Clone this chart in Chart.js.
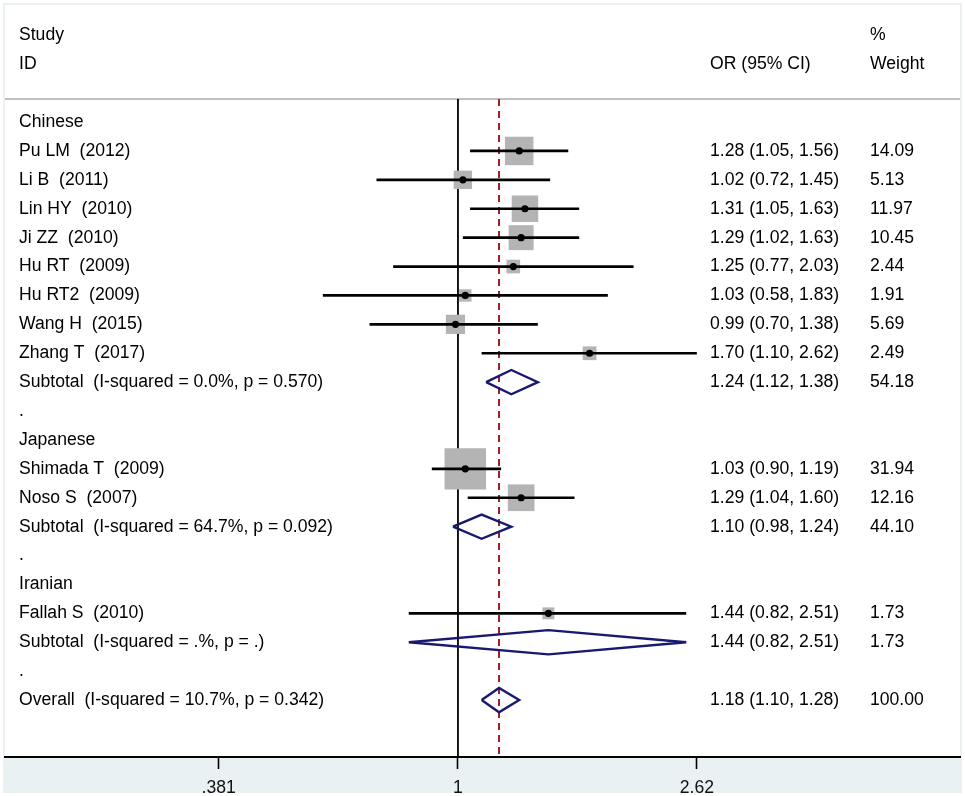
<!DOCTYPE html>
<html>
<head>
<meta charset="utf-8">
<title>Forest plot</title>
<script src="https://cdn.jsdelivr.net/npm/chart.js@4.4.0/dist/chart.umd.min.js"></script>
<style>
  html, body { margin: 0; padding: 0; background: #fff; }
  canvas { display: block; }
</style>
</head>
<body>
<canvas id="forest" width="965" height="796"></canvas>
<script>
// rows, top to bottom (row index = y value)
const rowLabels = [
  "Chinese",
  "Pu LM  (2012)", "Li B  (2011)", "Lin HY  (2010)", "Ji ZZ  (2010)",
  "Hu RT  (2009)", "Hu RT2  (2009)", "Wang H  (2015)", "Zhang T  (2017)",
  "Subtotal  (I-squared = 0.0%, p = 0.570)",
  ".",
  "Japanese",
  "Shimada T  (2009)", "Noso S  (2007)",
  "Subtotal  (I-squared = 64.7%, p = 0.092)",
  ".",
  "Iranian",
  "Fallah S  (2010)",
  "Subtotal  (I-squared = .%, p = .)",
  ".",
  "Overall  (I-squared = 10.7%, p = 0.342)"
];
const rowKinds = [
  "group", "study", "study", "study", "study", "study", "study", "study", "study", "pooled", "blank",
  "group", "study", "study", "pooled", "blank",
  "group", "study", "pooled", "blank",
  "pooled"
];
const orEst  = [null, 1.28, 1.02, 1.31, 1.29, 1.25, 1.03, 0.99, 1.70, 1.24, null, null, 1.03, 1.29, 1.10, null, null, 1.44, 1.44, null, 1.18];
const ciLow  = [null, 1.05, 0.72, 1.05, 1.02, 0.77, 0.58, 0.70, 1.10, 1.12, null, null, 0.90, 1.04, 0.98, null, null, 0.82, 0.82, null, 1.10];
const ciHigh = [null, 1.56, 1.45, 1.63, 1.63, 2.03, 1.83, 1.38, 2.62, 1.38, null, null, 1.19, 1.60, 1.24, null, null, 2.51, 2.51, null, 1.28];
const weights = ["", "14.09", "5.13", "11.97", "10.45", "2.44", "1.91", "5.69", "2.49", "54.18", "", "", "31.94", "12.16", "44.10", "", "", "1.73", "1.73", "", "100.00"];

const tickValues = [0.381, 1, 2.62];
const tickLabels = [".381", "1", "2.62"];
const overallRow = 20;

// layout constants
const fontFamily = '"Liberation Sans", Arial, sans-serif';
const labelFont = '17.6px ' + fontFamily;
const textLeft = 19, orColumn = 710, weightColumn = 870;
const separatorRow = -0.8;
const yTop = -4.05, yBottom = 21.97;
const xMin = 0.161, xMax = 7.57;
const diamondHalf = 0.42;
const boxSide = w => 6.8 * Math.sqrt(w) + 3;

const navy = "rgb(25,25,112)";
const darkRed = "rgb(165,30,40)";

const datasets = [];

// line of no effect and pooled estimate line
datasets.push({
  data: [{ x: 1, y: separatorRow }, { x: 1, y: yBottom }],
  showLine: true, borderColor: "#000", borderWidth: 1.8, pointRadius: 0, order: 10
});
datasets.push({
  data: [{ x: orEst[overallRow], y: separatorRow }, { x: orEst[overallRow], y: yBottom }],
  showLine: true, borderColor: darkRed, borderWidth: 2, borderDash: [7, 5], pointRadius: 0, order: 9
});

// weight boxes, point estimates and CI lines
const boxData = [];
const dotData = [];
rowKinds.forEach((k, i) => {
  if (k !== "study") return;
  boxData.push({ x: orEst[i], y: i, s: boxSide(parseFloat(weights[i])) });
  dotData.push({ x: orEst[i], y: i });
  datasets.push({
    data: [{ x: ciLow[i], y: i }, { x: ciHigh[i], y: i }],
    showLine: true, borderColor: "#000", borderWidth: 2.7, pointRadius: 0, order: 7
  });
});
datasets.push({
  data: boxData, pointStyle: "rect", backgroundColor: "rgb(180,180,180)",
  borderWidth: 0, pointRadius: c => c.raw ? c.raw.s / Math.SQRT2 : 0, order: 8
});
datasets.push({
  data: dotData, pointStyle: "circle", backgroundColor: "#000",
  borderWidth: 0, pointRadius: 3.6, order: 6
});

// pooled diamonds
rowKinds.forEach((k, i) => {
  if (k !== "pooled") return;
  datasets.push({
    data: [
      { x: ciLow[i], y: i }, { x: orEst[i], y: i - diamondHalf },
      { x: ciHigh[i], y: i }, { x: orEst[i], y: i + diamondHalf },
      { x: ciLow[i], y: i }
    ],
    showLine: true, borderColor: navy, borderWidth: 2.4, pointRadius: 0,
    tension: 0, order: 5
  });
});

const backgroundPlugin = {
  id: "forestBackground",
  beforeDraw(chart) {
    const { ctx, chartArea: a } = chart;
    ctx.save();
    ctx.fillStyle = "#fff";
    ctx.fillRect(0, 0, chart.width, chart.height);
    ctx.fillStyle = "rgb(234,241,243)";
    ctx.fillRect(3, 3, chart.width - 6, chart.height - 6);
    ctx.fillStyle = "#fff";
    ctx.fillRect(a.left, a.top, a.right - a.left, a.bottom - a.top);
    ctx.restore();
  },
  beforeDatasetsDraw(chart) {
    const { ctx, chartArea: a, scales: { y } } = chart;
    const sy = y.getPixelForValue(separatorRow);
    ctx.save();
    ctx.strokeStyle = "rgb(170,170,170)";
    ctx.lineWidth = 1.5;
    ctx.beginPath();
    ctx.moveTo(a.left, sy);
    ctx.lineTo(a.right, sy);
    ctx.stroke();
    ctx.restore();
  }
};

const textPlugin = {
  id: "forestText",
  afterDatasetsDraw(chart) {
    const { ctx, scales: { y } } = chart;
    ctx.save();
    ctx.font = labelFont;
    ctx.fillStyle = "#000";
    ctx.textBaseline = "middle";
    ctx.textAlign = "left";
    ctx.fillText("Study", textLeft, y.getPixelForValue(-3));
    ctx.fillText("ID", textLeft, y.getPixelForValue(-2));
    ctx.fillText("OR (95% CI)", orColumn, y.getPixelForValue(-2));
    ctx.fillText("%", weightColumn, y.getPixelForValue(-3));
    ctx.fillText("Weight", weightColumn, y.getPixelForValue(-2));
    rowLabels.forEach((t, i) => {
      const py = y.getPixelForValue(i);
      ctx.fillText(t, textLeft, py);
      if (orEst[i] !== null) {
        const s = orEst[i].toFixed(2) + " (" + ciLow[i].toFixed(2) + ", " + ciHigh[i].toFixed(2) + ")";
        ctx.fillText(s, orColumn, py);
        ctx.fillText(weights[i], weightColumn, py);
      }
    });
    ctx.restore();
  }
};

new Chart(document.getElementById("forest"), {
  type: "scatter",
  data: { datasets },
  options: {
    responsive: false,
    devicePixelRatio: 1,
    animation: false,
    events: [],
    layout: { autoPadding: false, padding: { left: 5, right: 5, top: 5, bottom: 3 } },
    plugins: { legend: { display: false }, tooltip: { enabled: false } },
    scales: {
      x: {
        type: "logarithmic",
        min: xMin,
        max: xMax,
        bounds: "data",
        afterBuildTicks: s => { s.ticks = tickValues.map(v => ({ value: v })); },
        afterFit: s => { s.height = 36; },
        border: { display: true, color: "#000", width: 2 },
        grid: { drawOnChartArea: false, drawTicks: true, tickLength: 12, tickColor: "#000", tickWidth: 1.6 },
        ticks: {
          autoSkip: false, maxRotation: 0, padding: 9, color: "#111",
          font: { family: fontFamily, size: 17.6 },
          callback: (v, i) => tickLabels[i]
        }
      },
      y: {
        type: "linear",
        reverse: true,
        min: yTop,
        max: yBottom,
        display: false
      }
    }
  },
  plugins: [backgroundPlugin, textPlugin]
});
</script>
</body>
</html>
